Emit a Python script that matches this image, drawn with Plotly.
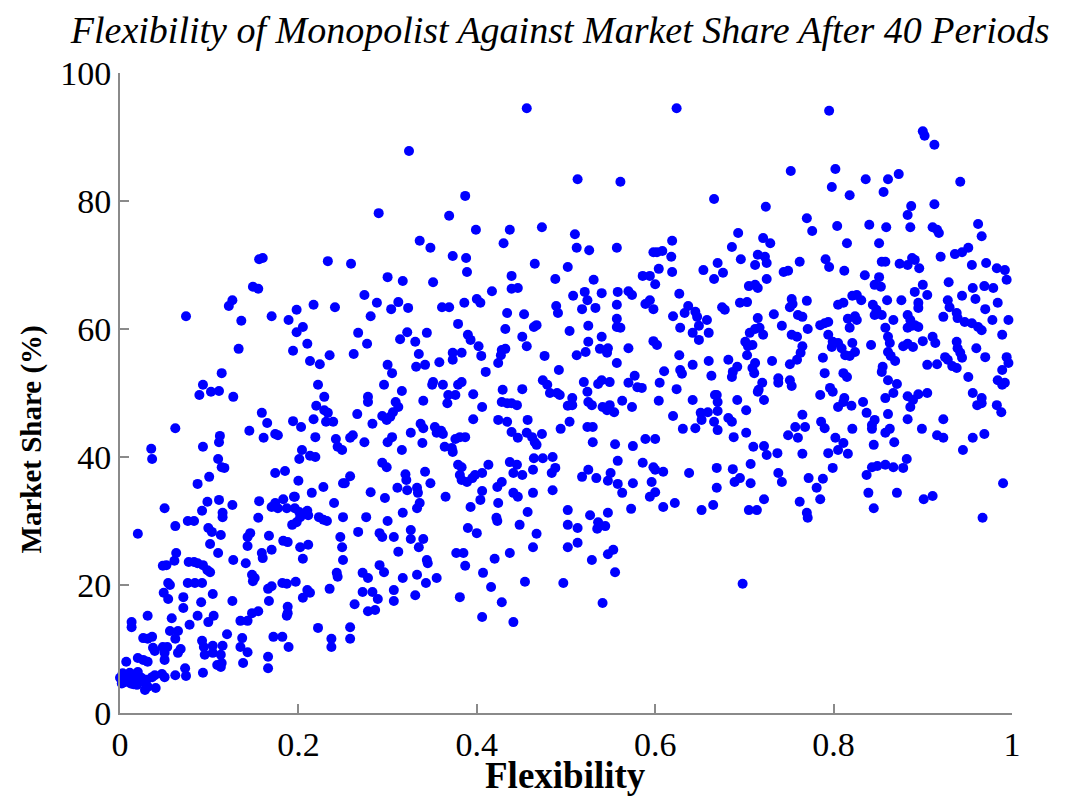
import plotly.graph_objects as go

# Market share (%) of the monopolist against its flexibility, after 40 periods.
# Observations are grouped by flexibility band for readability.

flex_band1 = [
    0.074, 0.156, 0.160, 0.233, 0.149, 0.155, 0.126, 0.122, 0.136, 0.170,
    0.189, 0.198, 0.217, 0.241, 0.205, 0.198, 0.133, 0.194, 0.210, 0.213,
    0.224, 0.235, 0.114, 0.093, 0.089, 0.102, 0.111, 0.127, 0.222, 0.229,
    0.220, 0.229, 0.233, 0.231, 0.239, 0.159, 0.165, 0.145, 0.161, 0.174,
    0.177, 0.194, 0.203, 0.217, 0.219, 0.242, 0.244, 0.249, 0.062, 0.035,
    0.036, 0.093, 0.112, 0.111, 0.110, 0.114, 0.117, 0.100, 0.087, 0.204,
    0.201, 0.213, 0.219, 0.174, 0.185, 0.200, 0.228, 0.215, 0.196, 0.250,
    0.050, 0.062, 0.076, 0.083, 0.092, 0.098, 0.111, 0.126, 0.115, 0.115,
    0.156, 0.155, 0.170, 0.174, 0.177, 0.183, 0.187, 0.195, 0.196, 0.201,
    0.210, 0.211, 0.202, 0.198, 0.193, 0.223, 0.228, 0.232, 0.240, 0.250,
    0.020, 0.099, 0.103, 0.113, 0.101, 0.110, 0.146, 0.143, 0.143, 0.167,
    0.159, 0.160, 0.170, 0.183, 0.188, 0.202, 0.211, 0.205, 0.247, 0.249,
    0.250, 0.063, 0.048, 0.052, 0.061, 0.077, 0.083, 0.087, 0.093, 0.098,
    0.101, 0.127, 0.141, 0.148, 0.151, 0.149, 0.054, 0.056, 0.049, 0.054,
    0.076, 0.084, 0.092, 0.071, 0.091, 0.104, 0.126, 0.166, 0.170, 0.167,
    0.182, 0.187, 0.197, 0.210, 0.213, 0.205, 0.235, 0.244, 0.243, 0.071,
    0.031, 0.013, 0.013, 0.058, 0.087, 0.105, 0.078, 0.099, 0.056, 0.065,
    0.062, 0.120, 0.135, 0.143, 0.148, 0.155, 0.188, 0.188, 0.187, 0.172,
    0.182, 0.189, 0.222, 0.237, 0.237, 0.026, 0.031, 0.036, 0.037, 0.039,
    0.048, 0.053, 0.050, 0.065, 0.068, 0.092, 0.094, 0.095, 0.104, 0.104,
    0.115, 0.113, 0.137, 0.135, 0.143, 0.166, 0.020, 0.026, 0.031, 0.007,
    0.050, 0.073, 0.062, 0.074, 0.093, 0.109, 0.114, 0.113, 0.138, 0.166,
    0.000, 0.003, 0.005, 0.007, 0.009, 0.011, 0.012, 0.014, 0.016, 0.018,
    0.019, 0.021, 0.023, 0.002, 0.006, 0.010, 0.015, 0.017, 0.020, 0.024,
    0.030, 0.036, 0.039, 0.047, 0.050, 0.028, 0.031, 0.040,
]
share_band1 = [
    62.0, 70.9, 71.1, 70.6, 66.6, 66.3, 64.5, 63.6, 61.3, 62.0,
    61.4, 63.0, 63.8, 63.4, 60.3, 59.5, 56.9, 56.6, 57.7, 55.0,
    54.5, 55.9, 53.1, 51.3, 49.7, 50.2, 50.3, 49.4, 51.3, 49.4,
    48.0, 47.3, 46.9, 45.5, 45.5, 46.9, 45.3, 44.1, 43.0, 43.6,
    43.4, 45.6, 44.7, 45.9, 43.1, 42.8, 41.6, 41.1, 44.5, 41.3,
    39.7, 41.6, 43.3, 42.3, 39.7, 38.4, 38.3, 36.9, 35.8, 41.1,
    39.7, 40.2, 40.0, 37.5, 37.8, 36.3, 35.3, 34.4, 33.8, 35.9,
    32.0, 29.2, 30.0, 30.0, 31.6, 33.0, 33.3, 32.5, 31.3, 30.6,
    33.1, 30.5, 32.2, 32.8, 32.0, 33.4, 32.0, 33.8, 32.0, 31.4,
    31.6, 30.9, 30.6, 29.8, 29.4, 30.6, 30.2, 30.0, 32.8, 30.6,
    28.0, 28.9, 28.3, 27.8, 26.4, 25.0, 28.1, 27.5, 26.1, 27.7,
    25.0, 24.2, 25.5, 26.9, 26.7, 25.9, 26.3, 24.1, 27.5, 25.9,
    23.9, 25.0, 23.0, 23.1, 23.8, 23.6, 23.6, 23.4, 23.1, 22.3,
    22.0, 23.9, 23.4, 21.6, 21.1, 20.6, 20.3, 20.0, 18.8, 17.8,
    20.3, 20.3, 20.3, 18.1, 17.3, 18.6, 17.5, 19.4, 19.8, 17.5,
    20.3, 20.2, 20.5, 19.2, 18.8, 18.0, 19.4, 21.3, 21.9, 16.4,
    15.2, 14.2, 13.4, 14.8, 15.2, 15.2, 13.8, 14.2, 12.8, 12.8,
    11.6, 12.3, 14.4, 14.4, 15.6, 15.9, 16.6, 15.6, 15.2, 11.9,
    11.9, 10.3, 13.3, 11.6, 10.3, 11.7, 11.6, 11.9, 10.2, 9.7,
    10.3, 10.3, 9.4, 9.4, 10.0, 11.3, 10.3, 9.1, 10.5, 9.4,
    10.5, 9.1, 11.7, 10.3, 9.5, 8.8, 8.6, 8.3, 8.0, 8.0,
    8.3, 7.0, 5.9, 5.8, 6.3, 7.5, 7.8, 7.2, 7.8, 7.0,
    5.5, 6.2, 4.8, 5.8, 5.0, 6.3, 4.6, 5.6, 5.2, 6.0,
    4.4, 5.4, 4.9, 4.6, 5.2, 5.9, 4.5, 5.7, 6.4, 5.5,
    5.2, 5.6, 5.9, 6.1, 5.6, 3.6, 4.1, 3.9,
]

flex_band2 = [
    0.456, 0.324, 0.387, 0.290, 0.369, 0.399, 0.437, 0.473, 0.430, 0.336,
    0.348, 0.373, 0.388, 0.389, 0.259, 0.465, 0.300, 0.317, 0.351, 0.439,
    0.439, 0.446, 0.488, 0.417, 0.274, 0.288, 0.312, 0.304, 0.323, 0.361,
    0.369, 0.386, 0.400, 0.404, 0.281, 0.434, 0.453, 0.489, 0.491, 0.379,
    0.267, 0.277, 0.322, 0.314, 0.331, 0.344, 0.390, 0.393, 0.432, 0.451,
    0.456, 0.464, 0.467, 0.402, 0.428, 0.432, 0.427, 0.373, 0.383, 0.373,
    0.405, 0.262, 0.335, 0.424, 0.476, 0.492, 0.300, 0.305, 0.332, 0.342,
    0.358, 0.410, 0.296, 0.316, 0.351, 0.350, 0.362, 0.379, 0.383, 0.429,
    0.451, 0.474, 0.479, 0.482, 0.490, 0.278, 0.368, 0.376, 0.396, 0.278,
    0.309, 0.312, 0.340, 0.367, 0.406, 0.428, 0.434, 0.439, 0.445, 0.266,
    0.283, 0.294, 0.299, 0.303, 0.306, 0.337, 0.340, 0.326, 0.339, 0.353,
    0.355, 0.360, 0.362, 0.396, 0.424, 0.434, 0.439, 0.446, 0.457, 0.456,
    0.462, 0.465, 0.467, 0.473, 0.494, 0.258, 0.261, 0.274, 0.300, 0.305,
    0.316, 0.364, 0.372, 0.373, 0.376, 0.381, 0.387, 0.294, 0.299, 0.320,
    0.321, 0.311, 0.322, 0.333, 0.334, 0.342, 0.348, 0.281, 0.297, 0.252,
    0.258, 0.379, 0.383, 0.381, 0.383, 0.389, 0.395, 0.398, 0.406, 0.413,
    0.406, 0.404, 0.423, 0.428, 0.424, 0.437, 0.445, 0.441, 0.451, 0.441,
    0.446, 0.463, 0.464, 0.474, 0.463, 0.485, 0.488, 0.484, 0.485, 0.365,
    0.393, 0.457, 0.317, 0.333, 0.336, 0.300, 0.276, 0.267, 0.291, 0.294,
    0.307, 0.326, 0.326, 0.340, 0.335, 0.312, 0.344, 0.345, 0.390, 0.400,
    0.422, 0.423, 0.448, 0.467, 0.463, 0.377, 0.385, 0.387, 0.420, 0.437,
    0.272, 0.278, 0.291, 0.296, 0.317, 0.333, 0.343, 0.355, 0.407, 0.416,
    0.454, 0.497, 0.272, 0.283, 0.289, 0.307, 0.307, 0.331, 0.381, 0.263,
    0.278, 0.286, 0.428, 0.406, 0.441, 0.258, 0.258,
]
share_band2 = [
    94.5, 87.8, 80.8, 78.1, 77.7, 75.5, 75.5, 75.9, 73.4, 73.8,
    72.7, 71.4, 71.1, 68.9, 70.2, 70.2, 68.1, 67.5, 67.3, 68.3,
    66.3, 66.4, 67.8, 65.9, 65.3, 64.1, 64.2, 63.1, 63.3, 63.4,
    63.4, 64.1, 64.7, 64.1, 62.0, 62.5, 62.3, 63.6, 62.5, 60.8,
    59.4, 57.7, 59.5, 58.4, 58.0, 59.4, 59.1, 58.3, 60.0, 58.8,
    57.3, 60.3, 60.6, 57.3, 56.7, 56.9, 55.9, 56.3, 56.3, 55.2,
    55.8, 56.1, 56.1, 54.7, 55.8, 53.6, 54.4, 53.1, 54.1, 54.4,
    54.8, 53.3, 51.3, 50.3, 51.7, 51.3, 51.3, 51.3, 51.7, 50.5,
    50.6, 52.0, 51.3, 50.0, 50.0, 49.4, 49.7, 49.7, 49.8, 48.6,
    48.6, 47.8, 48.8, 48.4, 47.8, 48.6, 48.4, 48.4, 48.1, 46.7,
    45.2, 46.4, 45.8, 46.3, 47.0, 45.2, 44.5, 43.8, 42.2, 44.7,
    43.8, 44.1, 43.6, 45.9, 45.8, 45.5, 43.9, 43.0, 45.8, 43.8,
    43.1, 42.3, 41.9, 43.6, 44.4, 43.0, 43.4, 42.3, 42.3, 43.1,
    41.1, 41.6, 41.4, 40.8, 42.8, 43.1, 43.1, 39.1, 38.4, 37.3,
    36.4, 35.2, 34.8, 35.2, 34.4, 37.7, 35.9, 34.5, 33.6, 35.9,
    37.0, 38.8, 38.4, 37.2, 36.4, 36.1, 36.7, 37.2, 37.5, 38.8,
    34.7, 33.3, 35.3, 36.1, 32.8, 39.2, 38.8, 37.5, 37.2, 34.4,
    33.8, 38.0, 39.8, 39.8, 34.4, 40.0, 38.3, 37.5, 34.8, 33.8,
    32.2, 31.4, 31.3, 32.0, 32.8, 30.0, 30.6, 28.3, 28.1, 27.5,
    27.5, 28.6, 27.2, 27.2, 25.9, 25.2, 23.9, 23.4, 28.9, 28.1,
    30.5, 30.0, 29.4, 28.0, 25.9, 25.0, 25.0, 23.0, 24.1, 25.0,
    21.9, 21.1, 23.1, 22.0, 21.1, 21.6, 20.3, 21.1, 21.9, 19.7,
    20.5, 20.3, 18.9, 18.9, 17.8, 19.2, 17.5, 18.4, 18.1, 17.0,
    15.9, 16.1, 17.3, 15.0, 14.2, 13.4, 11.6,
]

flex_band3 = [
    0.624, 0.513, 0.561, 0.666, 0.724, 0.510, 0.512, 0.526, 0.557, 0.619,
    0.598, 0.602, 0.608, 0.618, 0.693, 0.686, 0.696, 0.721, 0.729, 0.715,
    0.723, 0.725, 0.712, 0.502, 0.531, 0.604, 0.619, 0.586, 0.594, 0.600,
    0.654, 0.670, 0.666, 0.676, 0.705, 0.712, 0.715, 0.725, 0.744, 0.508,
    0.521, 0.524, 0.540, 0.558, 0.570, 0.574, 0.627, 0.518, 0.533, 0.557,
    0.589, 0.594, 0.598, 0.675, 0.678, 0.695, 0.703, 0.733, 0.742, 0.620,
    0.633, 0.637, 0.645, 0.647, 0.658, 0.649, 0.642, 0.660, 0.649, 0.628,
    0.557, 0.557, 0.561, 0.525, 0.504, 0.540, 0.525, 0.538, 0.547, 0.546,
    0.522, 0.570, 0.598, 0.602, 0.715, 0.706, 0.712, 0.717, 0.721, 0.701,
    0.704, 0.709, 0.703, 0.512, 0.557, 0.627, 0.642, 0.660, 0.682, 0.731,
    0.610, 0.628, 0.630, 0.663, 0.692, 0.687, 0.686, 0.709, 0.712, 0.711,
    0.738, 0.720, 0.520, 0.524, 0.536, 0.540, 0.549, 0.570, 0.577, 0.580,
    0.585, 0.605, 0.624, 0.507, 0.669, 0.716, 0.738, 0.507, 0.502, 0.493,
    0.525, 0.529, 0.541, 0.546, 0.549, 0.554, 0.563, 0.574, 0.604, 0.620,
    0.642, 0.651, 0.659, 0.652, 0.667, 0.670, 0.670, 0.666, 0.670, 0.692,
    0.702, 0.682, 0.686, 0.715, 0.722, 0.504, 0.524, 0.530, 0.530, 0.555,
    0.575, 0.589, 0.600, 0.631, 0.645, 0.688, 0.702, 0.710, 0.722, 0.725,
    0.737, 0.525, 0.518, 0.534, 0.550, 0.547, 0.558, 0.558, 0.563, 0.575,
    0.586, 0.598, 0.600, 0.609, 0.596, 0.594, 0.600, 0.573, 0.609, 0.622,
    0.638, 0.669, 0.669, 0.687, 0.689, 0.695, 0.707, 0.707, 0.722, 0.652,
    0.665, 0.705, 0.714, 0.738, 0.742, 0.502, 0.502, 0.513, 0.527, 0.547,
    0.536, 0.535, 0.544, 0.502, 0.513, 0.529, 0.547, 0.553, 0.555, 0.541,
    0.698,
]
share_band3 = [
    94.5, 83.4, 83.0, 80.3, 79.1, 74.8, 72.7, 72.3, 72.7, 73.8,
    72.0, 72.0, 72.2, 71.3, 75.0, 72.8, 70.9, 74.2, 73.4, 71.6,
    71.3, 70.3, 70.0, 69.7, 67.7, 69.4, 68.9, 68.3, 68.3, 67.0,
    69.2, 70.3, 67.8, 68.8, 66.7, 66.9, 66.4, 67.8, 68.9, 65.2,
    65.8, 64.5, 65.6, 65.8, 65.9, 65.3, 65.5, 63.1, 63.3, 63.8,
    63.9, 64.5, 63.1, 63.4, 63.0, 64.1, 64.2, 62.3, 60.5, 62.0,
    62.5, 63.6, 62.7, 61.9, 61.4, 60.5, 59.4, 59.4, 58.3, 60.2,
    61.6, 60.3, 60.2, 60.5, 59.7, 58.8, 58.0, 56.9, 57.0, 56.3,
    56.4, 57.0, 58.1, 57.5, 61.7, 59.4, 60.0, 60.2, 59.1, 58.0,
    57.3, 57.5, 55.9, 55.9, 54.7, 55.9, 54.4, 55.0, 55.2, 55.0,
    53.4, 53.6, 53.0, 52.7, 54.1, 53.3, 52.5, 53.9, 54.7, 53.1,
    52.3, 51.6, 51.7, 50.2, 51.4, 52.0, 51.7, 51.6, 52.7, 50.9,
    50.8, 51.6, 50.6, 49.2, 49.7, 50.5, 51.6, 48.1, 48.0, 49.7,
    48.6, 48.1, 47.8, 47.3, 48.1, 47.0, 48.8, 47.8, 48.8, 46.4,
    48.9, 46.9, 47.0, 45.8, 49.7, 48.6, 47.2, 45.5, 44.2, 48.9,
    47.3, 46.1, 45.5, 50.2, 48.9, 45.5, 44.7, 44.7, 42.3, 42.0,
    41.7, 42.8, 42.8, 44.4, 44.5, 43.1, 43.8, 41.6, 41.7, 40.3,
    40.6, 38.0, 36.9, 36.7, 37.5, 36.3, 39.4, 35.8, 34.4, 35.9,
    39.1, 38.4, 38.0, 37.7, 36.1, 33.8, 34.5, 31.9, 32.2, 32.8,
    37.5, 38.3, 35.2, 38.1, 36.1, 36.7, 38.9, 35.9, 33.4, 31.7,
    32.5, 31.7, 31.7, 37.5, 36.1, 31.7, 29.4, 28.9, 30.9, 31.3,
    29.8, 28.8, 29.2, 25.9, 26.6, 23.9, 24.8, 25.5, 22.0, 17.2,
    20.2,
]

flex_band4 = [
    0.795, 0.900, 0.902, 0.913, 0.752, 0.802, 0.798, 0.836, 0.861, 0.856,
    0.873, 0.818, 0.942, 0.887, 0.883, 0.913, 0.770, 0.776, 0.804, 0.840,
    0.859, 0.886, 0.911, 0.916, 0.918, 0.962, 0.966, 0.815, 0.851, 0.936,
    0.944, 0.951, 0.920, 0.762, 0.749, 0.791, 0.795, 0.812, 0.854, 0.858,
    0.874, 0.883, 0.888, 0.891, 0.896, 0.929, 0.955, 0.971, 0.983, 0.992,
    0.994, 0.835, 0.851, 0.846, 0.853, 0.900, 0.891, 0.905, 0.956, 0.969,
    0.979, 0.959, 0.944, 0.928, 0.930, 0.984, 0.970, 0.996, 0.821, 0.826,
    0.831, 0.805, 0.811, 0.860, 0.876, 0.895, 0.895, 0.753, 0.754, 0.751,
    0.770, 0.760, 0.765, 0.771, 0.790, 0.794, 0.785, 0.816, 0.824, 0.826,
    0.818, 0.844, 0.848, 0.846, 0.854, 0.867, 0.883, 0.886, 0.888, 0.883,
    0.891, 0.895, 0.923, 0.938, 0.939, 0.947, 0.955, 0.962, 0.966, 0.978,
    0.753, 0.759, 0.765, 0.763, 0.759, 0.751, 0.794, 0.799, 0.798, 0.805,
    0.809, 0.813, 0.821, 0.824, 0.818, 0.842, 0.858, 0.861, 0.863, 0.861,
    0.864, 0.878, 0.883, 0.889, 0.900, 0.911, 0.914, 0.938, 0.939, 0.942,
    0.944, 0.960, 0.970, 0.994, 0.996, 0.989, 0.788, 0.869, 0.905, 0.916,
    0.925, 0.928, 0.933, 0.938, 0.855, 0.854, 0.751, 0.790, 0.811, 0.815,
    0.861, 0.871, 0.951, 0.989, 0.984, 0.989, 0.992, 0.753, 0.796, 0.799,
    0.785, 0.812, 0.867, 0.883, 0.895, 0.905, 0.956, 0.966, 0.811, 0.805,
    0.820, 0.833, 0.858, 0.889, 0.886, 0.961, 0.966, 0.983, 0.988, 0.765,
    0.757, 0.768, 0.749, 0.760, 0.765, 0.786, 0.790, 0.837, 0.846, 0.843,
    0.843, 0.861, 0.863, 0.858, 0.883, 0.899, 0.923, 0.916, 0.923, 0.821,
    0.802, 0.811, 0.805, 0.816, 0.794, 0.845, 0.868, 0.956, 0.969, 0.945,
    0.882, 0.843, 0.849, 0.858, 0.867, 0.878, 0.837, 0.799, 0.772, 0.781,
    0.788, 0.785, 0.762, 0.770, 0.771, 0.839, 0.871, 0.845, 0.901, 0.911,
    0.990, 0.967,
]
share_band4 = [
    94.1, 90.9, 90.2, 88.8, 84.7, 85.0, 82.2, 83.4, 83.4, 81.4,
    84.2, 80.9, 83.0, 79.2, 77.8, 79.5, 77.3, 75.3, 76.1, 76.3,
    75.9, 75.9, 75.9, 75.5, 75.0, 76.4, 74.5, 73.4, 73.4, 71.7,
    72.0, 72.7, 71.3, 70.5, 69.1, 70.9, 69.7, 69.1, 70.5, 70.5,
    70.2, 70.0, 71.1, 70.8, 69.5, 67.3, 70.0, 70.3, 69.5, 69.2,
    67.7, 68.4, 68.1, 66.9, 66.6, 66.9, 65.8, 65.3, 66.4, 66.7,
    66.4, 64.7, 65.2, 64.5, 63.4, 64.1, 63.1, 61.4, 65.2, 65.3,
    64.5, 63.8, 64.1, 64.5, 64.5, 64.1, 63.3, 64.7, 63.9, 63.4,
    64.4, 62.2, 61.9, 60.0, 60.9, 61.1, 60.6, 61.6, 62.0, 61.4,
    60.2, 63.8, 63.0, 62.2, 62.2, 61.4, 62.2, 61.4, 60.5, 60.2,
    60.6, 60.3, 61.9, 62.5, 61.7, 61.1, 60.9, 60.3, 59.8, 61.4,
    59.1, 58.8, 57.3, 56.3, 55.2, 54.5, 59.1, 58.0, 57.2, 57.8,
    57.0, 55.9, 57.8, 56.4, 55.8, 57.5, 60.2, 58.8, 57.8, 56.4,
    55.8, 57.3, 57.7, 57.2, 58.1, 58.8, 57.8, 58.0, 57.0, 56.3,
    55.5, 57.0, 55.6, 55.6, 54.7, 59.1, 55.5, 55.0, 54.4, 54.5,
    55.6, 55.2, 54.2, 53.9, 54.1, 53.3, 52.0, 53.1, 53.1, 52.5,
    52.0, 51.4, 52.5, 53.6, 52.0, 51.3, 51.6, 51.1, 50.8, 50.2,
    49.7, 49.2, 50.0, 49.5, 49.8, 50.0, 50.0, 49.2, 48.6, 47.8,
    48.0, 48.6, 49.2, 48.9, 47.8, 48.1, 48.4, 48.1, 47.0, 46.6,
    44.7, 44.7, 43.4, 43.0, 40.5, 45.5, 44.5, 46.9, 45.8, 45.0,
    44.4, 46.7, 44.4, 43.8, 45.9, 44.4, 45.9, 43.4, 43.0, 44.4,
    43.0, 42.2, 41.1, 40.5, 40.6, 41.9, 42.3, 43.0, 43.6, 41.1,
    39.7, 38.4, 38.6, 38.8, 38.4, 38.3, 37.2, 38.3, 36.7, 35.2,
    36.6, 33.4, 33.0, 31.3, 30.5, 34.4, 34.4, 32.0, 33.4, 33.9,
    35.9, 30.5,
]

x_ticks = [0, 0.2, 0.4, 0.6, 0.8, 1]
x_tick_labels = ["0", "0.2", "0.4", "0.6", "0.8", "1"]
y_ticks = [0, 20, 40, 60, 80, 100]
y_tick_labels = ["0", "20", "40", "60", "80", "100"]

flexibility = flex_band1 + flex_band2 + flex_band3 + flex_band4
market_share = share_band1 + share_band2 + share_band3 + share_band4
n = min(len(flexibility), len(market_share))

SERIF = "Liberation Serif, Times New Roman, serif"
AXIS_GREY = "#8a8a8a"

fig = go.Figure(
    go.Scatter(
        x=flexibility[:n],
        y=market_share[:n],
        mode="markers",
        marker=dict(color="#0000ff", size=10, line=dict(width=0)),
        cliponaxis=False,
        hoverinfo="x+y",
    )
)

axis_common = dict(
    showgrid=False,
    zeroline=False,
    showline=True,
    linecolor=AXIS_GREY,
    linewidth=2,
    ticks="inside",
    ticklen=9,
    tickwidth=1.5,
    tickcolor=AXIS_GREY,
    tickfont=dict(family=SERIF, size=34, color="black"),
    mirror=False,
)

fig.update_layout(
    width=1069,
    height=801,
    margin=dict(l=120, r=57, t=73, b=88),
    paper_bgcolor="white",
    plot_bgcolor="white",
    showlegend=False,
    title=dict(
        text="<i>Flexibility of Monopolist Against Market Share After 40 Periods</i>",
        font=dict(family=SERIF, size=38, color="black"),
        x=0.524,
        xanchor="center",
        y=1 - 30 / 801,
        yanchor="middle",
        yref="container",
    ),
    xaxis=dict(range=[0, 1], tickvals=x_ticks, ticktext=x_tick_labels, **axis_common),
    yaxis=dict(range=[0, 100], tickvals=y_ticks, ticktext=y_tick_labels, **axis_common),
    annotations=[
        dict(
            text="<b>Flexibility</b>",
            x=0.499, y=-0.097, xref="paper", yref="paper",
            xanchor="center", yanchor="middle", showarrow=False,
            font=dict(family=SERIF, size=37, color="black"),
        ),
        dict(
            text="<b>Market Share (%)</b>",
            x=-0.099, y=0.427, xref="paper", yref="paper",
            xanchor="center", yanchor="middle", showarrow=False, textangle=-90,
            font=dict(family=SERIF, size=29, color="black"),
        ),
    ],
)

fig.write_html("out.html")
